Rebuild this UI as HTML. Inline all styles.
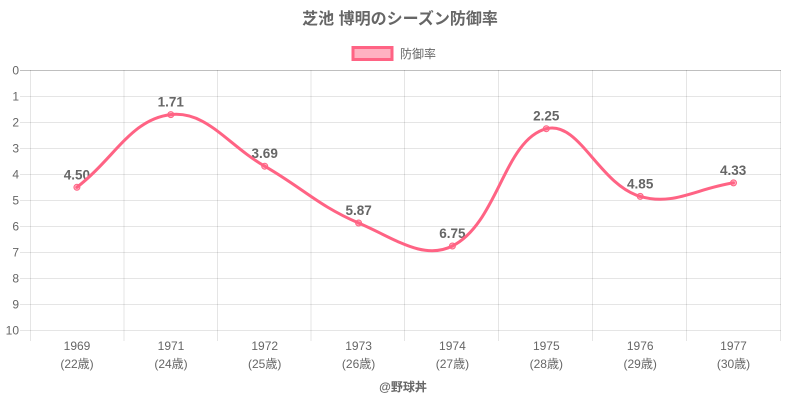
<!DOCTYPE html>
<html><head><meta charset="utf-8"><style>
html,body{margin:0;padding:0;background:#fff;}
svg{display:block;}
text{font-family:"Liberation Sans","Noto Sans CJK JP",sans-serif;}
</style></head><body>
<svg width="800" height="400" viewBox="0 0 800 400" xmlns="http://www.w3.org/2000/svg">
<rect width="800" height="400" fill="#fff"/>
<text x="400" y="24" text-anchor="middle" font-size="16" font-weight="bold" fill="#666">芝池 博明のシーズン防御率</text>
<rect x="353" y="47.5" width="39" height="12" fill="rgba(255,99,132,0.5)" stroke="#ff6384" stroke-width="3"/>
<text x="400" y="58" font-size="12" fill="#666">防御率</text>
<g stroke="rgba(0,0,0,0.1)" stroke-width="1" fill="none">
<line x1="20" y1="96.5" x2="781" y2="96.5"/>
<line x1="20" y1="122.5" x2="781" y2="122.5"/>
<line x1="20" y1="148.5" x2="781" y2="148.5"/>
<line x1="20" y1="174.5" x2="781" y2="174.5"/>
<line x1="20" y1="200.5" x2="781" y2="200.5"/>
<line x1="20" y1="226.5" x2="781" y2="226.5"/>
<line x1="20" y1="252.5" x2="781" y2="252.5"/>
<line x1="20" y1="278.5" x2="781" y2="278.5"/>
<line x1="20" y1="304.5" x2="781" y2="304.5"/>
<line x1="20" y1="330.5" x2="781" y2="330.5"/>
<line x1="30.5" y1="70" x2="30.5" y2="341"/>
<line x1="124" y1="70" x2="124" y2="341"/>
<line x1="217.5" y1="70" x2="217.5" y2="341"/>
<line x1="311" y1="70" x2="311" y2="341"/>
<line x1="404.5" y1="70" x2="404.5" y2="341"/>
<line x1="498.5" y1="70" x2="498.5" y2="341"/>
<line x1="592.5" y1="70" x2="592.5" y2="341"/>
<line x1="686.5" y1="70" x2="686.5" y2="341"/>
<line x1="780.5" y1="70" x2="780.5" y2="341"/>
</g>
<line x1="20" y1="70.5" x2="781" y2="70.5" stroke="rgba(0,0,0,0.25)" stroke-width="1"/>
<g font-size="12" fill="#666" text-anchor="end">
<text x="19" y="74.5">0</text>
<text x="19" y="100.5">1</text>
<text x="19" y="126.5">2</text>
<text x="19" y="152.5">3</text>
<text x="19" y="178.5">4</text>
<text x="19" y="204.5">5</text>
<text x="19" y="230.5">6</text>
<text x="19" y="256.5">7</text>
<text x="19" y="282.5">8</text>
<text x="19" y="308.5">9</text>
<text x="19" y="334.5">10</text>
</g>
<g font-size="12" fill="#666" text-anchor="middle">
<text x="77" y="350">1969</text><text x="77" y="368">(22歳)</text>
<text x="171" y="350">1971</text><text x="171" y="368">(24歳)</text>
<text x="264.7" y="350">1972</text><text x="264.7" y="368">(25歳)</text>
<text x="358.6" y="350">1973</text><text x="358.6" y="368">(26歳)</text>
<text x="452.4" y="350">1974</text><text x="452.4" y="368">(27歳)</text>
<text x="546.3" y="350">1975</text><text x="546.3" y="368">(28歳)</text>
<text x="640.2" y="350">1976</text><text x="640.2" y="368">(29歳)</text>
<text x="733.5" y="350">1977</text><text x="733.5" y="368">(30歳)</text>
</g>
<text x="403" y="391" text-anchor="middle" font-size="12" font-weight="bold" fill="#666">@野球丼</text>
<g font-size="13.5" font-weight="bold" fill="#666" text-anchor="middle">
<text x="76.9" y="179.3">4.50</text>
<text x="170.8" y="106.6">1.71</text>
<text x="264.7" y="158.2">3.69</text>
<text x="358.6" y="215">5.87</text>
<text x="452.4" y="238">6.75</text>
<text x="546.3" y="120.7">2.25</text>
<text x="640.2" y="188.4">4.85</text>
<text x="733.1" y="174.9">4.33</text>
</g>
<path d="M76.9,187.3 C114.5,158.2 131.3,119.0 170.8,114.6 C206.4,110.6 227.6,144.8 264.7,166.2 C302.7,188.1 318.7,206.0 358.6,223.0 C393.7,237.9 423.0,260.8 452.4,246.0 C498.1,223.0 503.9,139.9 546.3,128.7 C579.0,120.1 598.9,184.5 640.2,196.4 C674.0,206.2 696.5,188.3 733.5,182.9" fill="none" stroke="#ff6384" stroke-width="3" stroke-linejoin="round" stroke-linecap="round"/>
<g fill="rgba(255,99,132,0.5)" stroke="#ff6384" stroke-width="1">
<circle cx="76.9" cy="187.3" r="3"/>
<circle cx="170.8" cy="114.6" r="3"/>
<circle cx="264.7" cy="166.2" r="3"/>
<circle cx="358.6" cy="223.0" r="3"/>
<circle cx="452.4" cy="246.0" r="3"/>
<circle cx="546.3" cy="128.7" r="3"/>
<circle cx="640.2" cy="196.4" r="3"/>
<circle cx="733.5" cy="182.9" r="3"/>
</g>
</svg>
</body></html>
